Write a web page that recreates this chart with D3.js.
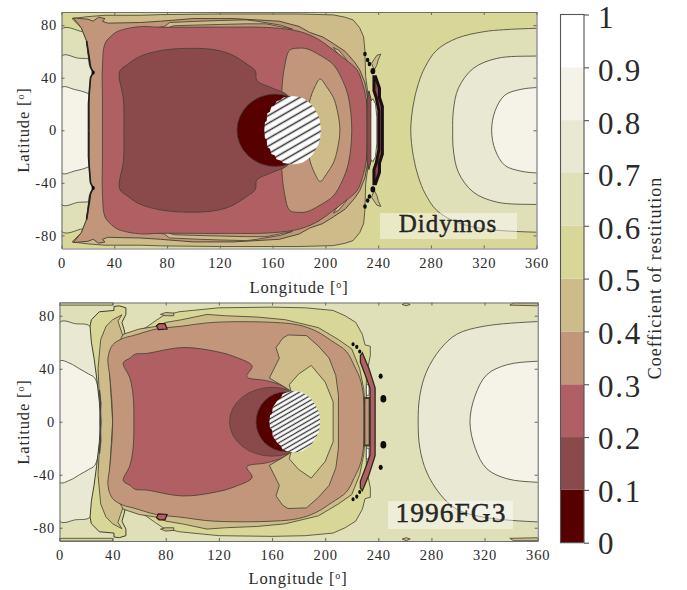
<!DOCTYPE html>
<html><head><meta charset="utf-8">
<script src="https://cdn.jsdelivr.net/npm/d3@7"></script>
<style>
html,body{margin:0;padding:0;background:#fff}
svg{display:block}
text{font-family:"Liberation Serif",serif;fill:#2a2a2a}
</style></head><body><div id="c"></div>
<script>
// Contour levels and palette
const levels=[0,.1,.2,.3,.4,.5,.6,.7,.8,.9,1];
const bandColors=["#570000","#8a4a4c","#b06064","#c2967a","#cdbb8a","#d8d798","#e0e0b8","#e9e8d2","#f5f3e7","#ffffff"];
const lonTicks=[0,40,80,120,160,200,240,280,320,360];
const latTicks=[-80,-40,0,40,80];
const barTickLabels=["0","0.1","0.2","0.3","0.4","0.5","0.6","0.7","0.8","0.9","1"];

// Didymos contours: [lon,lat], north half, mirrored across the equator
const d60L=[[0,77],[16,75],[25,74],[25,0]];
const d70L=[[0,56.5],[12,55],[25,52],[25,0]];
const d80L=[[0,32.5],[10,31],[20,28],[25,24],[25,0]];
const d60R=[[375,77.8],[360,77.6],[335,76.5],[320,75],[299.6,70],[284.4,61],[275.5,48],[270.5,35.6],[266.7,20],[264.7,0]];
const d70R=[[375,56.6],[360,56.5],[330,54.7],[312,47],[300.8,32],[297,15],[296.5,0]];
const d80R=[[375,32.6],[360,32.5],[347.6,31],[336,26.7],[328.7,15],[326,0]];
const dTan=[[21,0],[22,20],[24,44],[21,50],[19,68],[15,78],[8,85],[20,86.5],[33,87.5],[60,87.5],[75,88],[120,88.5],[180,88.5],[206,87.8],[215,86],[221,84],[226,78],[229,71],[230,60],[230.5,41],[232,30],[233,0]];
const dBrown=[[21,0],[21,28],[22,40],[24,44],[21.5,50],[19,68],[15,78],[9,85.5],[20,84.5],[24,83],[28,86],[33,85],[31,83],[35,81.5],[60,82],[75,83],[100,85],[130,85],[165,83],[180,79],[188,74.5],[198,71],[206,66],[215,60],[222,52],[226,46],[230,36],[232,25],[233,0]];
const dIslandA=[[63,71.5],[66,75],[72,78],[78,79],[82,82],[105,83],[120,83.5],[140,84],[148,83],[166,80],[175,77],[170,78],[155,81],[140,81],[120,80.5],[100,80],[85,79.5],[78,77],[68,75]];
const dIslandB=[[206,63],[210,61],[215,55],[217,52],[214,54],[208,60]];
const dIslandC=[[239,57],[242,58],[240,53.4],[239,49.6],[237,45.8],[235,51]];
const dIslandD=[[186,72],[189,72],[190,69],[187,69]];
const dRed=[[31,0],[31,23],[31,48],[33,66],[38,72],[42,75],[50,77.5],[62,79],[72,78.5],[120,78.5],[160,78],[181,75],[195,69],[206,61],[215,54],[224,46],[228,36],[231,23],[232,0]];
const dBrownIn=[[167,0],[167,30],[169,48],[173,61],[180,62.5],[186,62],[196,57],[206,50],[213,38],[217.5,25],[220,0]];
const dTanIn=[[186,0],[187,12],[188,22],[192,33],[196,39],[201,33],[206,25],[209,15],[211,0]];
const dDark=[[47.3,0],[47,23],[44,44.5],[50,50],[59,56],[72,60],[87,62],[110,62],[122,60],[130,57],[141,50],[147,45],[148,38],[160,32],[171,27],[175,20],[175,0]];
const dStripeA=[[231.5,0],[231.5,23],[233,30],[235,22],[235,0]];
const dStripeB=[[234.5,0],[234.5,22],[236,24],[238,20],[239,10],[239,0]];
const dStripeC=[[240.5,0],[240.5,15],[238.5,25],[236.8,30],[236.8,40.7],[238,40.7],[241,32],[241,25],[243.2,18],[243.2,0]];
const dEdge=[[19,68],[21,55],[22,48],[24,44],[22,40],[21,28],[20.5,20],[20.5,0]];
const dDotLon=[230,232,233.4,236,24];
const dDotLat=[58,53.4,50.4,45,44];
const dDotSize=[12,12,12,22,10];
const dHole=[[153.7,0],[154.2,6],[155.5,7],[156,13],[158,14],[159,18],[161.5,19],[163,22],[166,23],[168,25],[172,25.5],[175,26],[179,25.5],[183,24.5],[186,22.5],[189,20],[191.5,17],[193,14],[195,10],[196,6],[196.6,0]];

// 1996FG3 contours
const f70L=[[0,75],[12,74],[23,72],[27,50],[31,0]];
const f80L=[[0,45.7],[8,44],[15,40],[22,36],[26.5,33],[30,20],[31,0]];
const f60R=[[375,75.8],[360,75.6],[319,72],[299,66],[286.5,54.6],[276.4,38],[271.3,20],[270,0]];
const f80R=[[375,45.9],[360,45.7],[336.8,43],[321.7,35.5],[313,20],[309,0]];
const fTop=[[0,90],[40,90],[40,88],[0,88]];
const fGreenL=[[31,0],[30,15],[28,33],[26,48],[24,60],[23,72],[24,77],[30,83],[41,84],[41,87],[45,87.5],[50,86],[50,81],[47,75],[48.5,70],[49.6,65],[46,50],[45,0]];
const fTanL=[[31.5,0],[30,20],[29,40],[31,62],[35,72],[40,77],[47,80.7],[44,76],[46,70],[48,64],[45,55],[42,0]];
const fGreen=[[45,0],[44,55],[48,64],[55,67],[65,71],[72,76],[78,80],[90,83],[120,86],[160,86.5],[185,86],[206,84],[215,80],[223,75],[228,66],[230,58],[234,57],[234,50],[231,35],[231,0]];
const fTan=[[40,0],[38,33],[38,48],[48,66],[60,70],[73,72],[80,75],[92,77],[111,81],[125,80],[149,79],[170,77],[195,71],[210,62],[220,55],[226,40],[229,25],[231,0]];
const fBrown=[[40,0],[38,33],[36.5,48],[40,58],[48,63],[55.4,65],[73,70],[91,72],[116,75],[161,75],[180,73],[193,68.5],[205,61],[216,53],[222,42],[227,30],[230,0]];
const fTanIn=[[170,0],[173,24],[158,33],[165.5,48],[163,56],[168,63],[172,65.5],[186,65],[195,57],[203,48],[208,35],[210,20],[210,0]];
const fGreenIn=[[180,0],[173,28],[180,36],[189.5,42.5],[200,30],[206,15],[206,0]];
const fRed=[[56,0],[55.4,20],[53,33],[48,44.5],[53,48],[57,51],[65,51.5],[93,56],[118,53],[132,49],[145,42],[141,34],[156,31],[168,27],[172.5,23],[176,15],[176,0]];
const fBlob=[[73,72.5],[75,74],[79.4,74],[81,70],[74.4,69.5]];
const fIslandA=[[76,81],[80,82.5],[86,82],[86,80],[80,80]];
const fIslandB=[[258,88.5],[261,89.8],[264,88.5],[261,87.5]];
const fIslandC=[[339,88],[360,87.5],[360,89.8],[342,89.8]];
const fStripeA=[[233.8,0],[233.8,25],[231,33],[226.5,45],[226.5,50],[228,52],[233,40],[237.6,25.6],[237.6,0]];
const fStripeB=[[229.5,0],[229.5,18],[233.5,18],[233.5,0]];
const fStripeC=[[231,20],[231,28],[233,28],[233,20]];
const fEdge=[[30,24],[31,14],[30.5,0]];
const fDotLon=[221,223.8,226,241.8,243.8];
const fDotLat=[58.5,56.5,53,34.4,17.3];
const fDotSize=[10,10,9,16,34];
const fHole=[[158,0],[158.5,5],[160,6],[160.5,11],[162,13],[164,16],[166.5,18],[168,21],[171,22],[175,23],[179,23],[183,22],[186,20],[189,18],[191,15],[193,12],[195,8],[196,4],[196,0]];

// Discs: centre lon, lon radius, lat radius
const dDisc={lon:162,rx:29,ry:27.5};
const fDiscA={lon:160,rx:32,ry:26}, fDiscB={lon:170,rx:22,ry:22.4};

const W=687,H=590;
const svg=d3.select("#c").append("svg").attr("width",W).attr("height",H);
const defs=svg.append("defs");
defs.append("filter").attr("id","soft").attr("x","-5%").attr("y","-5%").attr("width","110%").attr("height","110%")
  .append("feGaussianBlur").attr("stdDeviation",.45);
function hatch(id,gap,w){
  const p=defs.append("pattern").attr("id",id).attr("patternUnits","userSpaceOnUse")
    .attr("width",20).attr("height",gap).attr("patternTransform","rotate(-30)");
  p.append("rect").attr("width",20).attr("height",gap).attr("fill","#fff");
  p.append("line").attr("x1",0).attr("x2",20).attr("y1",gap/2).attr("y2",gap/2).attr("stroke","#333").attr("stroke-width",w);
}
hatch("hA",6.6,1.5);hatch("hB",4.2,1.3);

const band=d3.scaleQuantize().domain([0,1]).range(bandColors);
const ink="#3f3f30";

function panel(cfg){
  const x=d3.scaleLinear().domain([0,360]).range(cfg.xr);
  const y=d3.scaleLinear().domain([-90,90]).range(cfg.yr);
  const line=d3.line().x(d=>x(d[0])).y(d=>y(d[1]));
  const ring=(c)=>line.curve(c?d3.curveCatmullRomClosed.alpha(.5):d3.curveLinearClosed);
  const mirror=pts=>pts.map(p=>[p[0],-p[1]]);
  const full=pts=>pts.concat(mirror(pts).reverse().filter(p=>p[1]!==0));
  const clipId="clip"+cfg.id;
  defs.append("clipPath").attr("id",clipId).append("rect")
    .attr("x",x(0)).attr("y",y(90)).attr("width",x(360)-x(0)).attr("height",y(-90)-y(90));
  const g=svg.append("g").attr("clip-path",`url(#${clipId})`).append("g").attr("filter","url(#soft)");
  g.append("rect").attr("x",x(0)).attr("y",y(90)).attr("width",x(360)-x(0)).attr("height",y(-90)-y(90)).attr("fill",band(cfg.base));
  cfg.layers.forEach(l=>{
    const paths=l.pair?[l.pts,mirror(l.pts)]:[full(l.pts)];
    paths.forEach(p=>{
      g.append("path").attr("d",ring(l.smooth)(p)).attr("fill",band(l.v))
        .attr("stroke",l.ink||ink).attr("stroke-width",l.w||.8);
    });
  });
  cfg.edges.forEach(e=>{
    [e.pts,mirror(e.pts)].forEach(p=>{
      g.append("path").attr("d",line.curve(d3.curveLinear)(p)).attr("fill","none").attr("stroke",e.c).attr("stroke-width",e.w);
    });
  });
  const sym=d3.symbol().type(d3.symbolCircle);
  cfg.dotLon.forEach((lon,i)=>{
    [1,-1].forEach(s=>{
      g.append("path").attr("d",sym.size(cfg.dotSize[i])()).attr("transform",`translate(${x(lon)},${y(s*cfg.dotLat[i])}) scale(.9,1.15)`).attr("fill","#0a0a0a");
    });
  });
  cfg.discs.forEach(d=>{
    g.append("ellipse").attr("cx",x(d.lon)).attr("cy",y(0)).attr("rx",x(d.rx)-x(0)).attr("ry",y(0)-y(d.ry))
      .attr("fill",band(d.v)).attr("stroke",ink).attr("stroke-width",.7);
  });
  g.append("path").attr("d",ring(false)(full(cfg.hole))).attr("fill",`url(#${cfg.hatch})`);

  // axes
  const style=a=>{a.selectAll("path,line").attr("stroke","#6f6f6f").attr("stroke-width",1.1);
    a.selectAll("text").attr("font-size",14.5).attr("font-family",'"Liberation Serif",serif').attr("fill","#2a2a2a").attr("letter-spacing",.8);a.attr("font-family",null);};
  const ax=svg.append("g");
  ax.append("g").attr("transform",`translate(0,${y(-90)})`).call(d3.axisBottom(x).tickValues(lonTicks).tickSize(-3).tickSizeOuter(0).tickPadding(9).tickFormat(String)).call(style);
  ax.append("g").attr("transform",`translate(0,${y(90)})`).call(d3.axisTop(x).tickValues(lonTicks).tickSize(-3).tickSizeOuter(0).tickFormat("")).call(style);
  ax.append("g").attr("transform",`translate(${x(0)},0)`).call(d3.axisLeft(y).tickValues(latTicks).tickSize(-3).tickSizeOuter(0).tickPadding(4.5).tickFormat(String)).call(style);
  ax.append("g").attr("transform",`translate(${x(360)},0)`).call(d3.axisRight(y).tickValues(latTicks).tickSize(-3).tickSizeOuter(0).tickFormat("")).call(style);

  const lab=(txt,tx,ty,rot)=>{
    const t=svg.append("text").attr("transform",`translate(${tx},${ty})`+(rot?" rotate(-90)":"")).attr("text-anchor","middle").attr("font-size",16.5).attr("letter-spacing",.85);
    t.append("tspan").text(txt+" [");
    t.append("tspan").attr("font-size",10).attr("dy",-5.5).text("o");
    t.append("tspan").attr("dy",5.5).text("]");
  };
  lab("Longitude",cfg.xLab[0],cfg.xLab[1],false);
  lab("Latitude",cfg.yLab[0],cfg.yLab[1],true);

  svg.append("rect").attr("x",cfg.box[0]).attr("y",cfg.box[1]).attr("width",cfg.box[2]).attr("height",cfg.box[3]).attr("fill","#fff").attr("opacity",.45);
  svg.append("text").attr("x",cfg.name[1]).attr("y",cfg.name[2]).attr("text-anchor","middle").attr("font-size",cfg.name[3])
    .attr("letter-spacing",1).attr("fill","#111").attr("stroke","#111").attr("stroke-width",.4).text(cfg.name[0]);
}

panel({id:"A",hatch:"hA",xr:[61.5,536.5],yr:[248.5,12],base:.55,
  xLab:[299,293],yLab:[29,130],box:[380,213,137,26],name:["Didymos",448,232,25],
  layers:[
   {pts:d60L,v:.65,smooth:1},{pts:d70L,v:.75,smooth:1},{pts:d80L,v:.85,smooth:1},
   {pts:d60R,v:.65,smooth:1},{pts:d70R,v:.75,smooth:1},{pts:d80R,v:.85,smooth:1},
   {pts:dIslandC,v:.45,pair:1},
   {pts:dTan,v:.45},{pts:dBrown,v:.35,w:.9},
   {pts:dIslandA,v:.45,pair:1},{pts:dIslandB,v:.45,pair:1},{pts:dIslandD,v:.45,pair:1},
   {pts:dRed,v:.25,smooth:1},{pts:dBrownIn,v:.35,smooth:1},{pts:dTanIn,v:.45,smooth:1},{pts:dDark,v:.15,smooth:1},
   {pts:dStripeA,v:.15,w:1},{pts:dStripeB,v:.85,w:.8},{pts:dStripeC,v:.15,w:3,ink:"#1c1012"}],
  edges:[{pts:dEdge,c:"#222",w:1.7}],
  dotLon:dDotLon,dotLat:dDotLat,dotSize:dDotSize,
  discs:[{...dDisc,v:.05}],hole:dHole});

panel({id:"B",hatch:"hB",xr:[59.5,537.7],yr:[541,302.5],base:.65,
  xLab:[298,584],yLab:[29,422],box:[388,501,125,28],name:["1996FG3",451,522,27.5],
  layers:[
   {pts:f70L,v:.75,smooth:1},{pts:f80L,v:.85,smooth:1},
   {pts:f60R,v:.75,smooth:1},{pts:f80R,v:.85,smooth:1},
   {pts:fTop,v:.55,pair:1},
   {pts:fIslandB,v:.45,pair:1},{pts:fIslandC,v:.45,pair:1},
   {pts:fGreenL,v:.55,w:1},{pts:fTanL,v:.45},
   {pts:fGreen,v:.55},{pts:fTan,v:.45},{pts:fBrown,v:.35,smooth:1},
   {pts:fIslandA,v:.45,pair:1},{pts:fBlob,v:.25,pair:1,w:1.2,ink:"#2a1515"},
   {pts:fTanIn,v:.45},{pts:fGreenIn,v:.55},{pts:fRed,v:.25,smooth:1},
   {pts:fStripeB,v:.35,w:2},{pts:fStripeC,v:.95,pair:1},{pts:fStripeA,v:.25,w:1.3,ink:"#2a2a1c"}],
  edges:[{pts:fEdge,c:"#444",w:1.6}],
  dotLon:fDotLon,dotLat:fDotLat,dotSize:fDotSize,
  discs:[{...fDiscA,v:.15},{...fDiscB,v:.05}],hole:fHole});

// Colour bar
const yBar=d3.scaleLinear().domain([0,1]).range([542.7,14.5]);
const yBarText=d3.scaleLinear().domain([0,1]).range([544,18]);
const bar=svg.append("g");
bar.selectAll("rect").data(bandColors).join("rect")
  .attr("x",560.5).attr("width",23.5)
  .attr("y",(d,i)=>yBar(levels[i+1])).attr("height",(d,i)=>yBar(levels[i])-yBar(levels[i+1]))
  .attr("fill",d=>d);
bar.append("rect").attr("x",560.5).attr("y",yBar(1)).attr("width",23.5).attr("height",yBar(0)-yBar(1)).attr("fill","none").attr("stroke","#555").attr("stroke-width",1.1);
const barAxis=d3.axisRight(yBar).tickValues(levels).tickFormat((d,i)=>barTickLabels[i]).tickSize(5).tickSizeOuter(0).tickPadding(9);
const ba=bar.append("g").attr("transform","translate(584,0)").call(barAxis);
ba.select(".domain").remove();
ba.selectAll("line").attr("stroke","#555").attr("stroke-width",1.1);
ba.selectAll("text").attr("font-size",31).attr("font-family",'"Liberation Serif",serif').attr("fill","#2a2a2a").attr("letter-spacing",1.8)
  .attr("y",d=>yBarText(d)-yBar(d));
svg.append("text").attr("transform","translate(661,278) rotate(-90)").attr("text-anchor","middle").attr("font-size",18).attr("letter-spacing",.95).text("Coefficient of restitution");
</script></body></html>
